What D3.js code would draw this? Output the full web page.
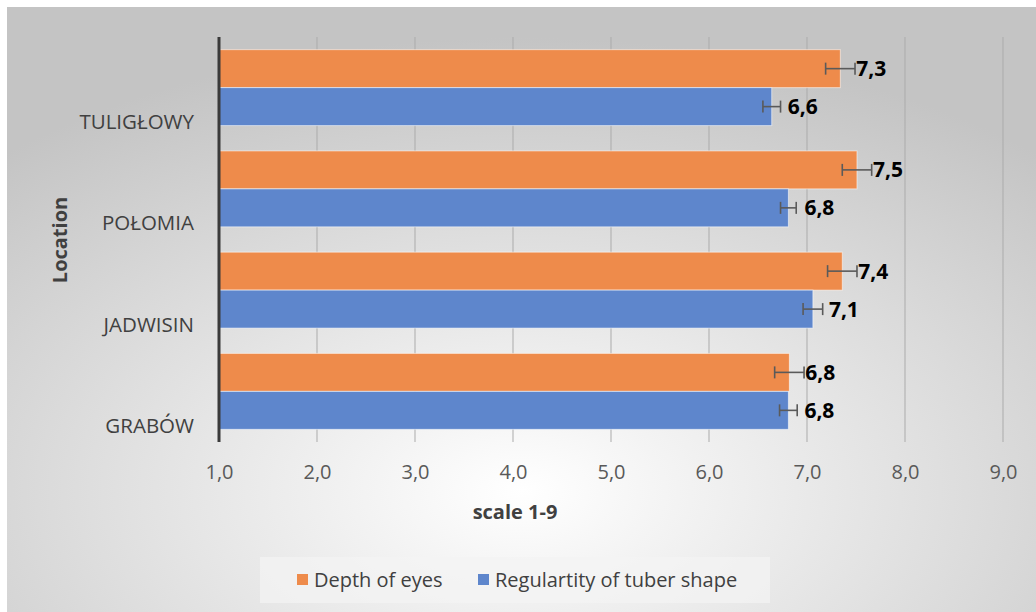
<!DOCTYPE html>
<html>
<head>
<meta charset="utf-8">
<script src="https://cdn.jsdelivr.net/npm/d3@7"></script>
<style>
  body { margin: 0; background: #fff; }
  text { font-family: "Open Sans", sans-serif; }
</style>
</head>
<body>
<svg id="chart" width="1036" height="612"></svg>
<script>
// data
var locations = ["TULIGŁOWY", "POŁOMIA", "JADWISIN", "GRABÓW"];
var seriesNames = ["Depth of eyes", "Regulartity of tuber shape"];
var depthOfEyes = [7.34, 7.51, 7.36, 6.82];
var tuberShape = [6.64, 6.81, 7.06, 6.81];
var depthErr = [0.15, 0.15, 0.15, 0.15];
var shapeErr = [0.09, 0.08, 0.10, 0.09];
var xTicks = [1, 2, 3, 4, 5, 6, 7, 8, 9];
var colors = ["#ee8b4b", "#5e86cc"];

var svg = d3.select("#chart");

// background with radial fill, like the office chart style
var defs = svg.append("defs");
var grad = defs.append("radialGradient")
  .attr("id", "bg")
  .attr("cx", "50%").attr("cy", "80%").attr("r", "75%");
grad.append("stop").attr("offset", "0%").attr("stop-color", "#ffffff");
grad.append("stop").attr("offset", "100%").attr("stop-color", "#c4c4c4");

svg.append("rect")
  .attr("x", 7).attr("y", 7)
  .attr("width", 1029).attr("height", 605)
  .attr("fill", "url(#bg)");

var plotLeft = 219, plotRight = 1003, plotTop = 37, plotBottom = 442;

var x = d3.scaleLinear().domain([1, 9]).range([plotLeft, plotRight]);
var y = d3.scaleBand().domain(locations).range([plotTop, plotBottom]).paddingInner(0.25).paddingOuter(0.125);
var ySub = d3.scaleBand().domain([0, 1]).range([0, y.bandwidth()]).padding(0);

// grid lines + tick marks
svg.append("g")
  .selectAll("line")
  .data(xTicks.slice(1))
  .enter().append("line")
  .attr("x1", function(d) { return x(d); })
  .attr("x2", function(d) { return x(d); })
  .attr("y1", plotTop)
  .attr("y2", plotBottom)
  .attr("stroke", "#ababab")
  .attr("stroke-width", 1);

// x axis labels
var xAxis = svg.append("g")
  .attr("transform", "translate(0," + plotBottom + ")")
  .call(d3.axisBottom(x).tickValues(xTicks).tickSize(0).tickPadding(23)
    .tickFormat(function(d) { return d3.format(".1f")(d).replace(".", ","); }));
xAxis.select(".domain").remove();
xAxis.selectAll("text")
  .attr("font-size", "20px")
  .attr("fill", "#595959")
  .style("font-family", "'Open Sans', sans-serif");

var rows = [];
locations.forEach(function(loc, i) {
  rows.push({ loc: loc, s: 0, v: depthOfEyes[i], e: depthErr[i] });
  rows.push({ loc: loc, s: 1, v: tuberShape[i], e: shapeErr[i] });
});

var g = svg.append("g");

g.selectAll(".bar")
  .data(rows)
  .enter().append("rect")
  .attr("class", "bar")
  .attr("x", x(1))
  .attr("y", function(d) { return y(d.loc) + ySub(d.s); })
  .attr("width", function(d) { return x(d.v) - x(1); })
  .attr("height", ySub.bandwidth())
  .attr("fill", function(d) { return colors[d.s]; })
  .attr("stroke", "rgba(255,255,255,0.55)")
  .attr("stroke-width", 1);

// error bars
var eb = g.selectAll(".err")
  .data(rows)
  .enter().append("g")
  .attr("class", "err")
  .attr("stroke", "#5a5a5a")
  .attr("stroke-width", 1.6);
eb.append("line")
  .attr("x1", function(d) { return x(d.v - d.e); })
  .attr("x2", function(d) { return x(d.v + d.e); })
  .attr("y1", function(d) { return y(d.loc) + ySub(d.s) + ySub.bandwidth() / 2; })
  .attr("y2", function(d) { return y(d.loc) + ySub(d.s) + ySub.bandwidth() / 2; });
[-1, 1].forEach(function(side) {
  eb.append("line")
    .attr("x1", function(d) { return x(d.v + side * d.e); })
    .attr("x2", function(d) { return x(d.v + side * d.e); })
    .attr("y1", function(d) { return y(d.loc) + ySub(d.s) + ySub.bandwidth() / 2 - 6; })
    .attr("y2", function(d) { return y(d.loc) + ySub(d.s) + ySub.bandwidth() / 2 + 6; });
});

// value labels
g.selectAll(".lbl")
  .data(rows)
  .enter().append("text")
  .attr("x", function(d) { return x(d.v) + 16; })
  .attr("y", function(d) { return y(d.loc) + ySub(d.s) + ySub.bandwidth() / 2; })
  .attr("dy", "0.36em")
  .attr("font-size", "21px")
  .attr("font-weight", "bold")
  .attr("fill", "#000")
  .text(function(d) { return d3.format(".1f")(d.v).replace(".", ","); });

// category axis line
svg.append("line")
  .attr("x1", plotLeft).attr("x2", plotLeft)
  .attr("y1", plotTop).attr("y2", plotBottom)
  .attr("stroke", "#3a3a3a")
  .attr("stroke-width", 3);

// category labels (sit low in each band, as in the original)
svg.append("g")
  .selectAll("text")
  .data(locations)
  .enter().append("text")
  .attr("x", 194)
  .attr("y", function(d) { return y(d) + y.bandwidth() * 0.95; })
  .attr("dy", "0.36em")
  .attr("text-anchor", "end")
  .attr("font-size", "20.5px")
  .attr("fill", "#404040")
  .text(function(d) { return d; });

// axis titles
svg.append("text")
  .attr("transform", "translate(67,240) rotate(-90)")
  .attr("text-anchor", "middle")
  .attr("font-size", "20px")
  .attr("font-weight", "bold")
  .attr("fill", "#404040")
  .text("Location");

svg.append("text")
  .attr("x", 515).attr("y", 519)
  .attr("text-anchor", "middle")
  .attr("font-size", "20px")
  .attr("font-weight", "bold")
  .attr("fill", "#404040")
  .text("scale 1-9");

// legend
var legend = svg.append("g");
legend.append("rect")
  .attr("x", 260).attr("y", 557)
  .attr("width", 510).attr("height", 46)
  .attr("fill", "#f4f4f4")
  .attr("opacity", 0.7);
var lx = [297, 478];
seriesNames.forEach(function(name, i) {
  legend.append("rect")
    .attr("x", lx[i]).attr("y", 574)
    .attr("width", 11).attr("height", 11)
    .attr("fill", colors[i]);
  legend.append("text")
    .attr("x", lx[i] + 17).attr("y", 580)
    .attr("dy", "0.36em")
    .attr("font-size", "20px")
    .attr("fill", "#404040")
    .text(name);
});
</script>
</body>
</html>
